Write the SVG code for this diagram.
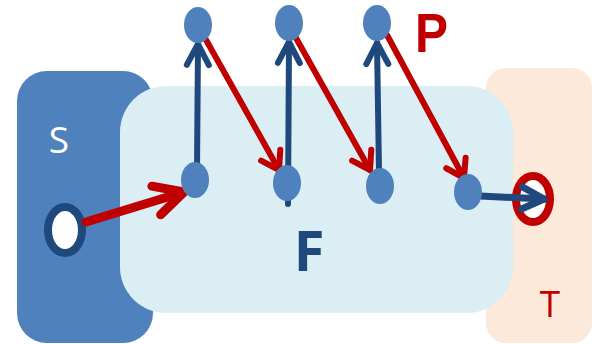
<svg xmlns="http://www.w3.org/2000/svg" width="594" height="344" viewBox="0 0 594 344">
  <defs>
    <style>
      .dot { fill: #4F81BD; }
      .blue { stroke: #1F497D; fill: none; stroke-linecap: round; }
      .red { stroke: #C00000; fill: none; stroke-linecap: round; }
      .lbl { font-family: "Open Sans", "Liberation Sans", sans-serif; }
    </style>
    <marker id="headBlue" markerUnits="userSpaceOnUse" viewBox="-30 -20 40 40" refX="0" refY="0" markerWidth="40" markerHeight="40" orient="auto" overflow="visible">
      <path d="M-21,-11 L0,0 L-21,11" fill="none" stroke="#1F497D" stroke-width="6" stroke-linecap="round" stroke-linejoin="round"/>
    </marker>
    <marker id="headBlueL" markerUnits="userSpaceOnUse" viewBox="-30 -20 40 40" refX="0" refY="0" markerWidth="40" markerHeight="40" orient="auto" overflow="visible">
      <path d="M-22,-11 L0,0 L-22,11" fill="none" stroke="#1F497D" stroke-width="7" stroke-linecap="round" stroke-linejoin="round"/>
    </marker>
    <marker id="headRed" markerUnits="userSpaceOnUse" viewBox="-30 -20 40 40" refX="0" refY="0" markerWidth="40" markerHeight="40" orient="auto" overflow="visible">
      <path d="M-17,-11 L0,0 L-17,11" fill="none" stroke="#C00000" stroke-width="6" stroke-linecap="round" stroke-linejoin="round"/>
    </marker>
    <marker id="headRedL" markerUnits="userSpaceOnUse" viewBox="-40 -20 50 40" refX="0" refY="0" markerWidth="50" markerHeight="40" orient="auto" overflow="visible">
      <path d="M-29,-15 L0,0 L-29,15" fill="none" stroke="#C00000" stroke-width="9" stroke-linecap="round" stroke-linejoin="round"/>
    </marker>
  </defs>

  <!-- regions -->
  <g id="S">
    <rect x="17" y="71" width="136" height="272" rx="30" fill="#4F81BD"/>
    <text class="lbl" x="59" y="153" font-size="37" fill="#FFFFFF" text-anchor="middle">S</text>
  </g>
  <g id="T">
    <rect x="486" y="68" width="106" height="275" rx="20" fill="#FDE9D9"/>
    <text class="lbl" x="550" y="317" font-size="37" fill="#C00000" text-anchor="middle">T</text>
  </g>
  <g id="F">
    <rect x="120" y="86" width="393" height="227" rx="46" fill="#DAEEF3"/>
    <text class="lbl" x="309" y="271" font-size="56" font-weight="bold" fill="#1F497D" text-anchor="middle">F</text>
  </g>
  <g id="P">
    <text x="415" y="52" font-family="'Liberation Sans', Arial, sans-serif" font-size="56" font-weight="bold" fill="#C00000" textLength="33" lengthAdjust="spacingAndGlyphs">P</text>
  </g>

  <!-- source and target -->
  <g id="source">
    <ellipse cx="65" cy="230" rx="17" ry="23" fill="#FFFFFF" stroke="#1F497D" stroke-width="8"/>
  </g>
  <g id="target">
    <ellipse cx="533" cy="199" rx="17" ry="23" fill="#FFFFFF" stroke="#C00000" stroke-width="8"/>
  </g>

  <!-- connectors -->
  <g id="connectors">
    <line class="red" x1="86" y1="222" x2="184" y2="192" stroke-width="9" marker-end="url(#headRedL)"/>
    <line class="blue" x1="197" y1="170" x2="198" y2="44" stroke-width="6" marker-end="url(#headBlue)"/>
    <line class="red" x1="205" y1="38" x2="279" y2="170" stroke-width="6" marker-end="url(#headRed)"/>
    <line class="blue" x1="288" y1="204" x2="289" y2="42" stroke-width="6" stroke-linecap="butt" marker-end="url(#headBlue)"/>
    <line class="red" x1="296" y1="38" x2="370" y2="170" stroke-width="6" marker-end="url(#headRed)"/>
    <line class="blue" x1="379" y1="172" x2="377" y2="43" stroke-width="6" marker-end="url(#headBlue)"/>
    <line class="red" x1="387" y1="35" x2="464" y2="178" stroke-width="6" marker-end="url(#headRed)"/>
    <line class="blue" x1="480" y1="196" x2="544" y2="199" stroke-width="7" marker-end="url(#headBlueL)"/>
  </g>

  <!-- path points -->
  <g id="dot-b1"><ellipse class="dot" cx="195" cy="180" rx="14" ry="18"/></g>
  <g id="dot-b2"><ellipse class="dot" cx="287" cy="183" rx="14" ry="18"/></g>
  <g id="dot-b3"><ellipse class="dot" cx="380" cy="186" rx="14" ry="18"/></g>
  <g id="dot-b4"><ellipse class="dot" cx="468" cy="192" rx="14" ry="18"/></g>
  <g id="dot-t1"><ellipse class="dot" cx="198" cy="25" rx="14" ry="18"/></g>
  <g id="dot-t2"><ellipse class="dot" cx="289" cy="23" rx="14" ry="18"/></g>
  <g id="dot-t3"><ellipse class="dot" cx="377" cy="23" rx="14" ry="18"/></g>
</svg>
